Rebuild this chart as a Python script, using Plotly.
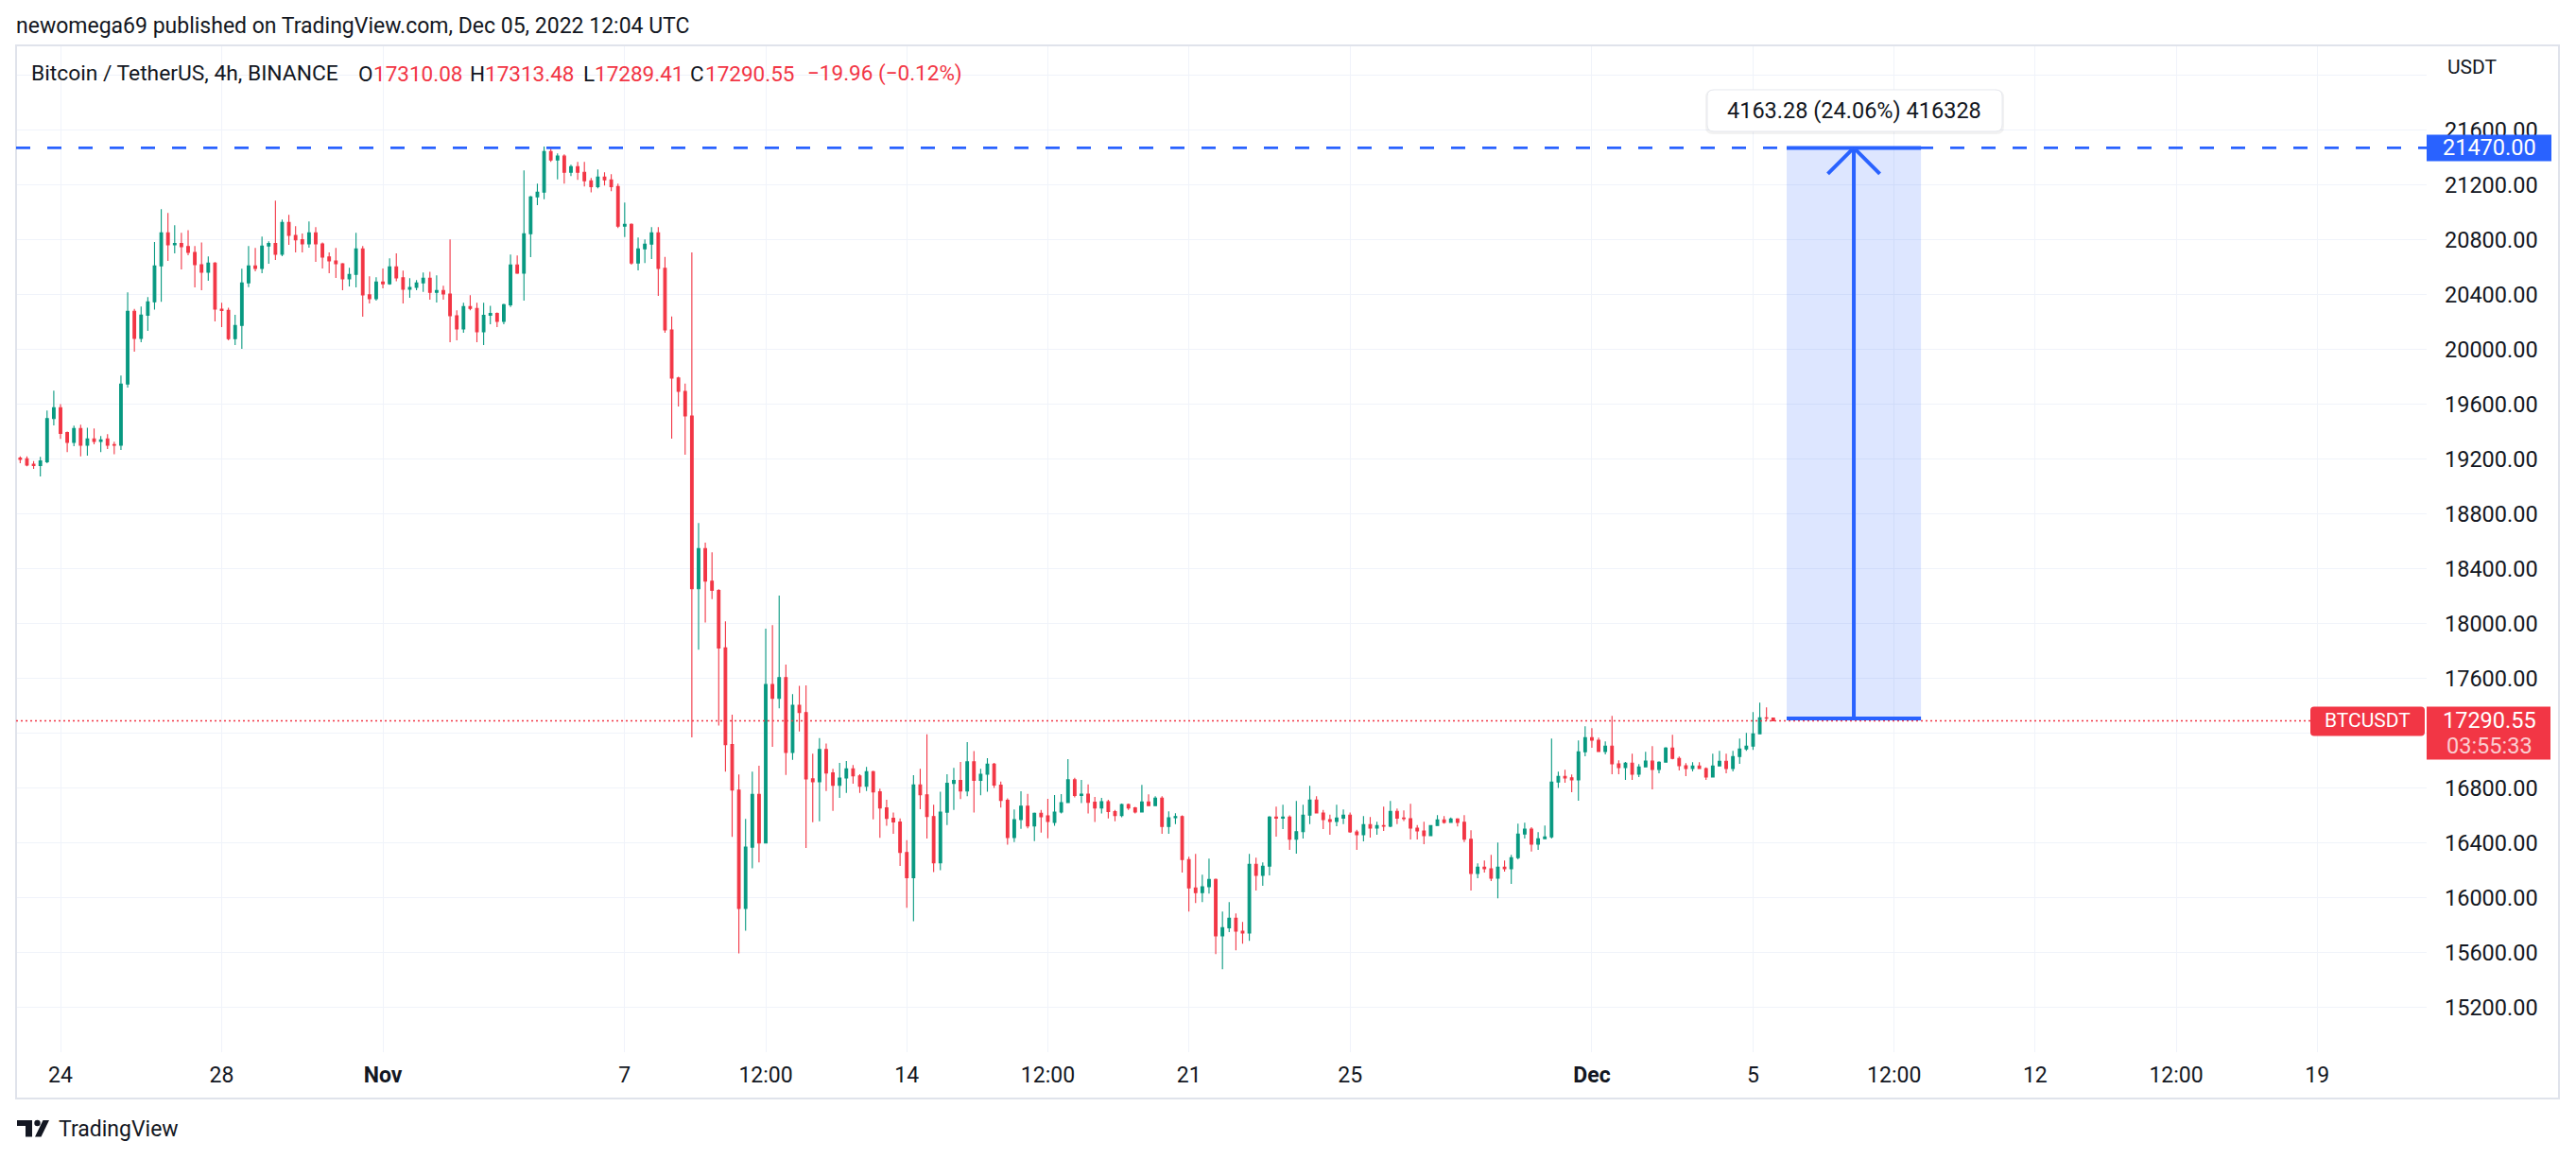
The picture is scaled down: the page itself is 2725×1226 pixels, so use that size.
import pandas as pd
import plotly.graph_objects as go

# ---------------- data (BTC/USDT, 4h candles) ----------------
start_time = "2022-10-23 00:00"
n_candles = 262

opens = [
    19208, 19202, 19163, 19152, 19181, 19496, 19575, 19393, 19322, 19423,
    19301, 19347, 19329, 19347, 19305, 19301, 19747, 20278, 20080, 20250,
    20347, 20609, 20851, 20763, 20773, 20750, 20708, 20618, 20563, 20630,
    20294, 20284, 20078, 20175, 20485, 20609, 20591, 20754, 20773, 20694,
    20926, 20832, 20800, 20770, 20851, 20770, 20674, 20646, 20625, 20515,
    20547, 20733, 20398, 20370, 20492, 20478, 20602, 20522, 20439, 20452,
    20485, 20519, 20416, 20430, 20404, 20246, 20149, 20313, 20299, 20129,
    20249, 20263, 20204, 20326, 20616, 20556, 20844, 21113, 21147, 21444,
    21382, 21410, 21292, 21333, 21292, 21230, 21188, 21257, 21237, 21188,
    20899, 20913, 20630, 20733, 20768, 20851, 20591, 20142, 19791, 19694,
    19515, 18254, 18547, 18309, 18242, 17822, 17117, 16785, 15921, 16369,
    16753, 16400, 17555, 17454, 17605, 17059, 17404, 17351, 16867, 16845,
    17081, 16910, 16820, 16873, 16940, 16889, 16813, 16919, 16772, 16655,
    16579, 16552, 16330, 16146, 16823, 16751, 16592, 16255, 16624, 16834,
    16855, 16778, 16991, 16856, 16901, 16974, 16821, 16710, 16439, 16570,
    16668, 16524, 16616, 16597, 16549, 16625, 16694, 16860, 16745, 16756,
    16696, 16655, 16701, 16628, 16600, 16680, 16655, 16625, 16699, 16671,
    16727, 16520, 16583, 16592, 16278, 16071, 16037, 16080, 16133, 15722,
    15781, 15850, 15756, 15742, 16244, 16163, 16230, 16588, 16581, 16588,
    16426, 16482, 16602, 16713, 16618, 16570, 16556, 16581, 16602, 16480,
    16460, 16533, 16508, 16526, 16522, 16630, 16581, 16577, 16508, 16487,
    16453, 16526, 16568, 16550, 16575, 16550, 16426, 16177, 16223, 16211,
    16142, 16223, 16211, 16292, 16464, 16500, 16391, 16430, 16444, 16844,
    16885, 16874, 16860, 17064, 17168, 17149, 17067, 17106, 16977, 16949,
    16982, 16901, 16954, 16996, 16936, 16989, 17092, 17016, 16963, 16942,
    16961, 16942, 16880, 16961, 16995, 16942, 17030, 17085, 17106, 17195,
    17313, 17310.08,
]
highs = [
    19220, 19220, 19186, 19216, 19554, 19699, 19600, 19400, 19444, 19450,
    19429, 19423, 19368, 19381, 19327, 19809, 20416, 20296, 20313, 20382,
    20784, 21023, 20995, 20906, 20851, 20870, 20754, 20780, 20678, 20637,
    20340, 20305, 20253, 20588, 20754, 20740, 20823, 20788, 21085, 20947,
    20982, 20899, 20846, 20933, 20892, 20780, 20708, 20740, 20630, 20595,
    20851, 20754, 20533, 20526, 20590, 20664, 20700, 20575, 20519, 20506,
    20561, 20567, 20540, 20464, 20802, 20285, 20340, 20395, 20340, 20340,
    20318, 20270, 20333, 20692, 20685, 21306, 21120, 21209, 21480, 21465,
    21430, 21424, 21347, 21368, 21368, 21250, 21313, 21292, 21278, 21209,
    21071, 20920, 20816, 20802, 20892, 20892, 20674, 20240, 19800, 19750,
    20708, 18733, 18591, 18519, 18250, 18016, 17335, 16899, 16575, 16919,
    16962, 17963, 17988, 18204, 17700, 17485, 17545, 17549, 17051, 17164,
    17124, 16940, 16984, 16998, 16968, 16901, 16954, 16927, 16796, 16714,
    16622, 16579, 16419, 16893, 16940, 17192, 16679, 16773, 16901, 16948,
    16991, 17135, 17070, 16940, 17018, 16984, 16848, 16725, 16644, 16777,
    16757, 16621, 16640, 16721, 16749, 16756, 17011, 16874, 16860, 16826,
    16735, 16729, 16715, 16640, 16686, 16686, 16662, 16823, 16754, 16740,
    16740, 16630, 16616, 16600, 16299, 16319, 16168, 16285, 16140, 15899,
    15968, 15885, 15823, 16319, 16292, 16257, 16595, 16664, 16678, 16600,
    16706, 16678, 16816, 16740, 16640, 16605, 16678, 16644, 16622, 16496,
    16595, 16588, 16554, 16664, 16706, 16650, 16637, 16685, 16530, 16554,
    16526, 16602, 16595, 16585, 16580, 16602, 16492, 16250, 16271, 16312,
    16402, 16271, 16312, 16540, 16547, 16514, 16478, 16526, 17161, 16920,
    16933, 16899, 17147, 17251, 17237, 17168, 17140, 17326, 17002, 16990,
    17050, 16975, 17064, 17106, 16995, 17099, 17188, 17030, 16982, 16988,
    16988, 16950, 17050, 17071, 17050, 17071, 17161, 17202, 17354, 17423,
    17388, 17313.48,
]
lows = [
    19170, 19147, 19129, 19073, 19170, 19446, 19347, 19250, 19294, 19220,
    19225, 19308, 19250, 19273, 19236, 19267, 19722, 19984, 20053, 20135,
    20290, 20347, 20646, 20701, 20584, 20687, 20453, 20432, 20501, 20205,
    20163, 20066, 20032, 20005, 20455, 20570, 20556, 20625, 20653, 20680,
    20763, 20708, 20708, 20742, 20639, 20591, 20556, 20522, 20432, 20459,
    20453, 20239, 20335, 20356, 20446, 20471, 20497, 20336, 20377, 20432,
    20419, 20363, 20342, 20363, 20053, 20066, 20122, 20285, 20053, 20032,
    20184, 20163, 20184, 20310, 20550, 20356, 20673, 21053, 21095, 21368,
    21241, 21209, 21264, 21237, 21188, 21145, 21175, 21195, 21154, 20885,
    20820, 20618, 20577, 20630, 20660, 20391, 20122, 19349, 19584, 19232,
    17169, 17810, 18008, 18179, 17256, 16919, 16444, 15593, 15759, 16214,
    16257, 16396, 17101, 17382, 16896, 17006, 17212, 16363, 16550, 16558,
    16778, 16633, 16729, 16764, 16832, 16764, 16778, 16571, 16437, 16524,
    16467, 16232, 15926, 15829, 16645, 16432, 16187, 16201, 16530, 16641,
    16719, 16740, 16622, 16747, 16773, 16800, 16657, 16386, 16405, 16503,
    16506, 16413, 16474, 16434, 16524, 16614, 16690, 16731, 16690, 16614,
    16552, 16614, 16579, 16558, 16586, 16641, 16614, 16625, 16671, 16671,
    16467, 16467, 16536, 16184, 15899, 15961, 15968, 16030, 15588, 15478,
    15749, 15616, 15664, 15685, 16053, 16087, 16163, 16446, 16501, 16349,
    16322, 16432, 16536, 16618, 16501, 16460, 16522, 16536, 16473, 16349,
    16411, 16439, 16460, 16487, 16515, 16536, 16560, 16425, 16425, 16391,
    16453, 16526, 16540, 16545, 16520, 16405, 16053, 16142, 16184, 16122,
    15995, 16190, 16101, 16280, 16432, 16336, 16349, 16430, 16432, 16800,
    16839, 16770, 16708, 17032, 17094, 17067, 17046, 16901, 16901, 16860,
    16860, 16880, 16950, 16791, 16908, 16989, 17009, 16929, 16887, 16922,
    16940, 16860, 16880, 16961, 16908, 16922, 16977, 17071, 17078, 17195,
    17290, 17289.41,
]
closes = [
    19198, 19156, 19152, 19186, 19496, 19575, 19388, 19322, 19423, 19301,
    19347, 19329, 19340, 19301, 19301, 19747, 20278, 20080, 20250, 20347,
    20609, 20851, 20763, 20773, 20750, 20708, 20618, 20563, 20630, 20294,
    20284, 20078, 20175, 20485, 20609, 20591, 20754, 20773, 20694, 20926,
    20832, 20800, 20770, 20851, 20770, 20674, 20646, 20625, 20515, 20547,
    20733, 20398, 20370, 20492, 20478, 20602, 20522, 20439, 20452, 20485,
    20519, 20416, 20430, 20404, 20246, 20149, 20313, 20299, 20129, 20249,
    20263, 20204, 20326, 20616, 20556, 20844, 21113, 21147, 21444, 21382,
    21410, 21292, 21333, 21292, 21230, 21188, 21257, 21237, 21188, 20899,
    20913, 20630, 20733, 20768, 20851, 20591, 20142, 19791, 19694, 19515,
    18254, 18547, 18309, 18242, 17822, 17117, 16785, 15921, 16369, 16753,
    16400, 17555, 17454, 17605, 17059, 17404, 17351, 16867, 16845, 17081,
    16910, 16820, 16873, 16940, 16889, 16813, 16919, 16772, 16655, 16579,
    16552, 16330, 16146, 16823, 16751, 16592, 16255, 16624, 16834, 16855,
    16778, 16991, 16856, 16901, 16974, 16821, 16710, 16439, 16570, 16668,
    16524, 16616, 16590, 16556, 16625, 16694, 16860, 16745, 16756, 16696,
    16655, 16701, 16628, 16600, 16680, 16655, 16625, 16699, 16671, 16727,
    16520, 16583, 16592, 16278, 16071, 16037, 16080, 16133, 15722, 15781,
    15850, 15756, 15742, 16244, 16163, 16230, 16588, 16581, 16588, 16426,
    16482, 16602, 16713, 16618, 16570, 16556, 16581, 16602, 16480, 16460,
    16533, 16508, 16526, 16522, 16630, 16581, 16577, 16508, 16487, 16453,
    16526, 16568, 16550, 16575, 16550, 16426, 16177, 16223, 16211, 16142,
    16223, 16211, 16292, 16464, 16500, 16391, 16430, 16444, 16844, 16885,
    16874, 16860, 17064, 17168, 17149, 17067, 17106, 16977, 16949, 16982,
    16901, 16954, 16996, 16936, 16989, 17092, 17016, 16963, 16942, 16961,
    16942, 16880, 16961, 16995, 16942, 17030, 17085, 17106, 17195, 17313,
    17310, 17290.55,
]

price_ticks = list(range(15200, 22001, 400))
# 17200 sits behind the last-price label and 22000 behind the currency label
price_tick_text = ["" if v in (17200, 22000) else f"{v:.2f}" for v in price_ticks]

time_ticks = ["2022-10-24", "2022-10-28", "2022-11-01", "2022-11-07", "2022-11-10 12:00",
              "2022-11-14", "2022-11-17 12:00", "2022-11-21", "2022-11-25", "2022-12-01",
              "2022-12-05", "2022-12-08 12:00", "2022-12-12", "2022-12-15 12:00", "2022-12-19"]
time_tick_text = ["24", "28", "<b>Nov</b>", "7", "12:00", "14", "12:00", "21", "25",
                  "<b>Dec</b>", "5", "12:00", "12", "12:00", "19"]

last_price = 17290.55
target_price = 21470.00
measure_from = 17306.72
measure_text = "4163.28 (24.06%) 416328"
countdown = "03:55:33"
header_text = "newomega69 published on TradingView.com, Dec 05, 2022 12:04 UTC"

# ---------------- layout geometry (pixels) ----------------
W, H = 2725, 1226
PL, PR, PT, PB = 17, 2567, 48, 1113
Y_MIN, Y_MAX = 14873, 22218
PX_PER_DAY = 42.63
x_left = pd.Timestamp("2022-10-24") - pd.Timedelta(days=(64 - PL) / PX_PER_DAY)
x_right = pd.Timestamp("2022-10-24") + pd.Timedelta(days=(PR - 64) / PX_PER_DAY)

def fx(px):
    return (px - PL) / (PR - PL)

def fy(py):
    return (PB - py) / (PB - PT)

def price_px(p):
    return PB - (p - Y_MIN) / (Y_MAX - Y_MIN) * (PB - PT)

def rr_path(x0, y0, x1, y1, r):
    def P(x, y):
        return f"{fx(x):.6f},{fy(y):.6f}"
    return (f"M{P(x0 + r, y0)} L{P(x1 - r, y0)} Q{P(x1, y0)} {P(x1, y0 + r)} "
            f"L{P(x1, y1 - r)} Q{P(x1, y1)} {P(x1 - r, y1)} L{P(x0 + r, y1)} "
            f"Q{P(x0, y1)} {P(x0, y1 - r)} L{P(x0, y0 + r)} Q{P(x0, y0)} {P(x0 + r, y0)} Z")

FONT = "Roboto, Liberation Sans, Arial, sans-serif"
TXT = "#131722"
RED = "#F23645"
GREEN = "#089981"
BLUE = "#2962FF"

times = pd.date_range(start_time, periods=n_candles, freq="4h")

fig = go.Figure()
fig.add_trace(go.Candlestick(
    x=times, open=opens, high=highs, low=lows, close=closes,
    increasing=dict(line=dict(color=GREEN, width=1.1), fillcolor=GREEN),
    decreasing=dict(line=dict(color=RED, width=1.1), fillcolor=RED),
    whiskerwidth=0, hoverinfo="skip", showlegend=False,
))

shapes = []
# panel border
shapes.append(dict(type="rect", xref="paper", yref="paper", x0=fx(17), x1=fx(2707),
                   y0=fy(48), y1=fy(1162), line=dict(color="#e0e3eb", width=2),
                   fillcolor="rgba(0,0,0,0)", layer="above"))
# last price dotted line
shapes.append(dict(type="line", xref="paper", yref="y", x0=0, x1=fx(2444),
                   y0=last_price, y1=last_price,
                   line=dict(color=RED, width=1.5, dash="2px,3px")))
# horizontal dashed target line
shapes.append(dict(type="line", xref="paper", yref="y", x0=0, x1=1,
                   y0=target_price, y1=target_price,
                   line=dict(color=BLUE, width=2.7, dash="15px,18px")))
# measure box
bx0 = pd.Timestamp("2022-12-05 20:00")
bx1 = pd.Timestamp("2022-12-09 04:00")
bxm = pd.Timestamp("2022-12-07 12:00")
shapes.append(dict(type="rect", xref="x", yref="y", x0=bx0, x1=bx1,
                   y0=measure_from, y1=target_price,
                   fillcolor="rgba(41,98,255,0.16)", line=dict(width=0), layer="above"))
for yy in (measure_from, target_price):
    shapes.append(dict(type="line", xref="x", yref="y", x0=bx0, x1=bx1, y0=yy, y1=yy,
                       line=dict(color=BLUE, width=4)))
shapes.append(dict(type="line", xref="x", yref="y", x0=bxm, x1=bxm,
                   y0=measure_from, y1=target_price, line=dict(color=BLUE, width=4)))
arm_dt = pd.Timedelta(days=27.5 / PX_PER_DAY)
arm_dp = 27.5 / ((PB - PT) / (Y_MAX - Y_MIN))
for sgn in (-1, 1):
    shapes.append(dict(type="line", xref="x", yref="y", x0=bxm, y0=target_price,
                       x1=bxm + sgn * arm_dt, y1=target_price - arm_dp,
                       line=dict(color=BLUE, width=4)))
# measure label box (shadow + box)
shapes.append(dict(type="path", xref="paper", yref="paper",
                   path=rr_path(1804, 95, 2120, 142, 8),
                   fillcolor="rgba(0,0,0,0.05)", line=dict(width=0), layer="above"))
shapes.append(dict(type="path", xref="paper", yref="paper",
                   path=rr_path(1806, 95, 2118, 139, 7),
                   fillcolor="white", line=dict(color="#e6e8ee", width=1), layer="above"))
# price-axis label boxes
ty = price_px(target_price)
shapes.append(dict(type="rect", xref="paper", yref="paper", x0=fx(2567), x1=fx(2699),
                   y0=fy(ty - 14), y1=fy(ty + 14), fillcolor=BLUE, line=dict(width=0),
                   layer="above"))
ly = price_px(last_price)
shapes.append(dict(type="rect", xref="paper", yref="paper", x0=fx(2567), x1=fx(2698),
                   y0=fy(ly - 15), y1=fy(ly + 41), fillcolor=RED, line=dict(width=0),
                   layer="above"))
shapes.append(dict(type="path", xref="paper", yref="paper",
                   path=rr_path(2444, ly - 15, 2565, ly + 16, 4),
                   fillcolor=RED, line=dict(width=0), layer="above"))
# TradingView logo
logo = [
    dict(type="rect", x0=fx(18), x1=fx(34), y0=fy(1185), y1=fy(1191)),
    dict(type="rect", x0=fx(27), x1=fx(34), y0=fy(1185), y1=fy(1202.5)),
    dict(type="circle", x0=fx(36.3), x1=fx(42.7), y0=fy(1184.8), y1=fy(1191.2)),
    dict(type="path", path=f"M{fx(37)},{fy(1202.5)} L{fx(43.5)},{fy(1202.5)} "
                           f"L{fx(52)},{fy(1185)} L{fx(45.5)},{fy(1185)} Z"),
]
for s in logo:
    s.update(xref="paper", yref="paper", fillcolor=TXT, line=dict(width=0), layer="above")
    shapes.append(s)

ann = []
def text(px, py, s, size=22.5, color=TXT, anchor="left"):
    ann.append(dict(xref="paper", yref="paper", x=fx(px), y=fy(py), text=s,
                    showarrow=False, xanchor=anchor, yanchor="middle",
                    font=dict(family=FONT, size=size, color=color)))

text(15, 28, header_text, size=23)
text(31, 78, "Bitcoin / TetherUS, 4h, BINANCE", size=22.8)
for px, s, c in [(376.7, "O", TXT), (392.8, "17310.08", RED), (495, "H", TXT),
                 (510.7, "17313.48", RED), (615, "L", TXT), (626.5, "17289.41", RED),
                 (727.5, "C", TXT), (743.6, "17290.55", RED), (852, "−19.96 (−0.12%)", RED)]:
    text(px, 78, s, color=c)
text(2587, 71, "USDT", size=21)
text(1962, 117, measure_text, size=23.5, anchor="center")
text(2633, ty, f"{target_price:.2f}", size=23.5, color="white", anchor="center")
text(2633, ly, f"{last_price:.2f}", size=23.5, color="white", anchor="center")
text(2633, ly + 27, countdown, size=23.5, color="rgba(255,255,255,0.75)", anchor="center")
text(2504.5, ly, "BTCUSDT", size=21, color="white", anchor="center")
text(60, 1194, "TradingView", size=23)

fig.update_layout(
    width=W, height=H, autosize=False,
    margin=dict(l=PL, r=W - PR, t=PT, b=H - PB, pad=0),
    paper_bgcolor="white", plot_bgcolor="white",
    showlegend=False, hovermode=False, boxgap=0.45,
    shapes=shapes, annotations=ann,
    font=dict(family=FONT, color=TXT),
)
fig.update_xaxes(
    type="date", range=[x_left, x_right], tickvals=time_ticks, ticktext=time_tick_text,
    showgrid=True, gridcolor="#f0f3fa", gridwidth=1, ticks="", showline=False,
    zeroline=False, rangeslider=dict(visible=False),
    tickfont=dict(family=FONT, size=23, color=TXT), ticklabelstandoff=8, fixedrange=True,
)
fig.update_yaxes(
    side="right", range=[Y_MIN, Y_MAX], tickvals=price_ticks, ticktext=price_tick_text,
    showgrid=True, gridcolor="#f0f3fa", gridwidth=1, ticks="", showline=False,
    zeroline=False, tickfont=dict(family=FONT, size=23.5, color=TXT),
    ticklabelstandoff=18, fixedrange=True,
)

fig.write_html("out.html")
